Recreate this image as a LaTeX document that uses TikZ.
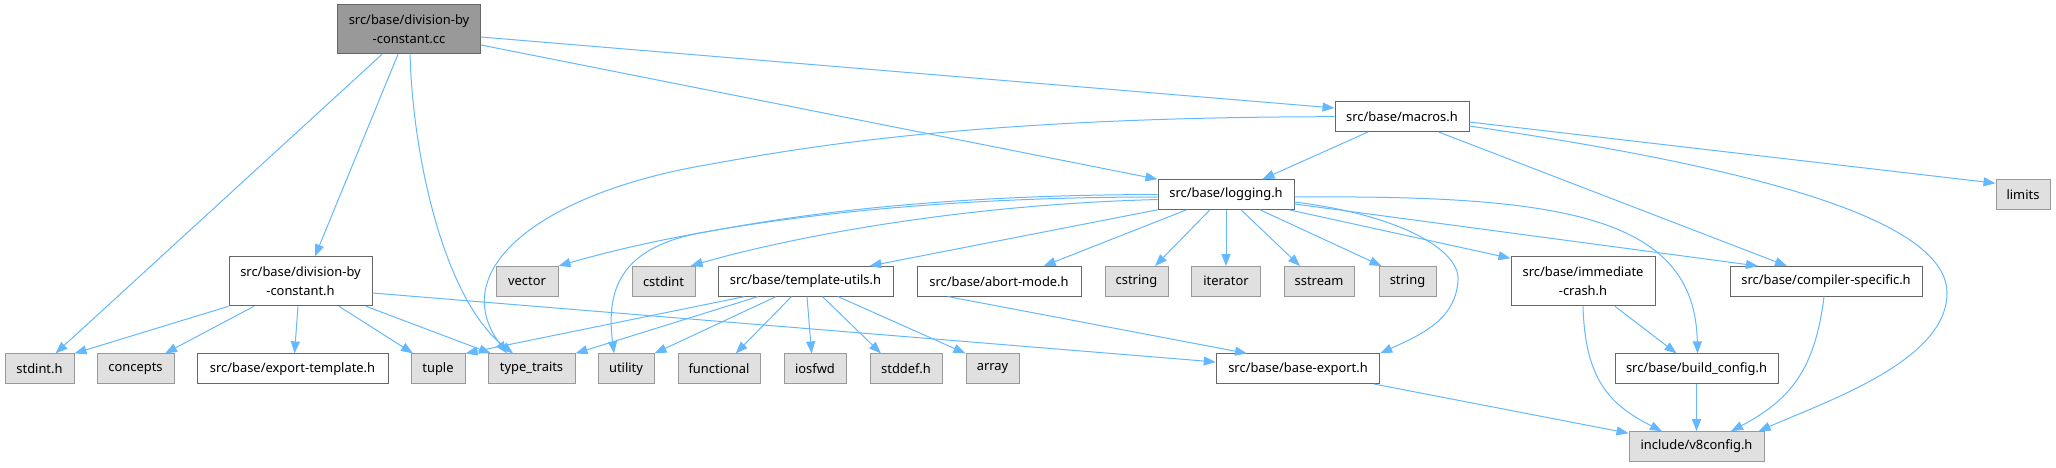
\documentclass[tikz,border=0pt]{standalone}
\usepackage{fontspec}
\setmainfont{Noto Sans}
\usetikzlibrary{arrows.meta}
\definecolor{depblue}{HTML}{63B8FF}
\definecolor{boxline}{HTML}{666666}
\definecolor{sysline}{HTML}{999999}
\definecolor{sysfill}{HTML}{E0E0E0}
\definecolor{curfill}{HTML}{999999}
\begin{document}
\begin{tikzpicture}[x=1pt, y=-1pt, font=\fontsize{12.9}{18.7}\selectfont,
  hdr/.style={draw=boxline, fill=white, line width=1pt, inner sep=0pt, minimum height=29.6pt, align=center},
  sys/.style={hdr, draw=sysline, fill=sysfill},
  cur/.style={hdr, fill=curfill, minimum height=49pt},
  two/.style={minimum height=49pt},
  dep/.style={draw=depblue, line width=1pt, -{Triangle[length=12pt,width=9pt]}}]
  \useasboundingbox (0,0) rectangle (2056,467);
  \node[cur, minimum width=143pt] (main) at (409,29.3) {src/base/division-by\\-constant.cc};
  \node[hdr, minimum width=134pt] (macros) at (1402,116.7) {src/base/macros.h};
  \node[hdr, minimum width=136pt] (logging) at (1226,194.5) {src/base/logging.h};
  \node[sys, minimum width=54pt] (limits) at (2023,194.5) {limits};
  \node[hdr, two, minimum width=143pt] (divh) at (300.5,281.3) {src/base/division-by\\-constant.h};
  \node[sys, minimum width=62pt] (vector) at (527,281.3) {vector};
  \node[sys, minimum width=63pt] (cstdint) at (663.5,281.3) {cstdint};
  \node[hdr, minimum width=175pt] (tutils) at (805.5,281.3) {src/base/template-utils.h};
  \node[hdr, minimum width=164pt] (abort) at (999,281.3) {src/base/abort-mode.h};
  \node[sys, minimum width=63pt] (cstring) at (1136.5,281.3) {cstring};
  \node[sys, minimum width=69pt] (iterator) at (1226,281.3) {iterator};
  \node[sys, minimum width=70pt] (sstream) at (1319,281.3) {sstream};
  \node[sys, minimum width=57pt] (string) at (1407.5,281.3) {string};
  \node[hdr, two, minimum width=144pt] (immcrash) at (1583,281.3) {src/base/immediate\\-crash.h};
  \node[hdr, minimum width=192pt] (compiler) at (1826,281.3) {src/base/compiler-specific.h};
  \node[sys, minimum width=69pt] (stdint) at (39.5,368.7) {stdint.h};
  \node[sys, minimum width=77pt] (concepts) at (135.5,368.7) {concepts};
  \node[hdr, minimum width=191pt] (exptmpl) at (292.5,368.7) {src/base/export-template.h};
  \node[sys, minimum width=54pt] (tuple) at (438,368.7) {tuple};
  \node[sys, minimum width=87pt] (typetraits) at (531.5,368.7) {type\_traits};
  \node[sys, minimum width=56pt] (utility) at (626,368.7) {utility};
  \node[sys, minimum width=82pt] (functional) at (719,368.7) {functional};
  \node[sys, minimum width=62pt] (iosfwd) at (815,368.7) {iosfwd};
  \node[sys, minimum width=72pt] (stddef) at (906,368.7) {stddef.h};
  \node[sys, minimum width=53pt] (array) at (992.5,368.7) {array};
  \node[hdr, minimum width=163.5pt] (baseexp) at (1298,368.7) {src/base/base-export.h};
  \node[hdr, minimum width=163pt] (buildcfg) at (1696.5,368.7) {src/base/build\_config.h};
  \node[sys, minimum width=135pt] (v8config) at (1696.5,446.5) {include/v8config.h};

  \draw[dep] ([xshift=-27pt]main.south) -- ([xshift=16pt]stdint.north);
  \draw[dep] ([xshift=-11pt]main.south) -- ([xshift=14.5pt]divh.north);
  \draw[dep] ([xshift=1pt]main.south) .. controls (413,160) and (445,300) .. ([xshift=-18.5pt]typetraits.north);
  \draw[dep] ([yshift=-7.7pt]main.east) -- ([yshift=8.7pt]macros.west);
  \draw[dep] ([yshift=-15.7pt]main.east) -- (logging.north west);

  \draw[dep] ([xshift=-34pt]macros.south) -- ([xshift=36.5pt]logging.north);
  \draw[dep] (macros.west) .. controls (950,117) and (780,152) .. (700,166) .. controls (540,195) and (445,270) .. ([xshift=-24.5pt]typetraits.north);
  \draw[dep] ([xshift=36.6pt]macros.south) -- ([xshift=-39pt]compiler.north);
  \draw[dep] ([yshift=-9.3pt]macros.east) .. controls (1700,160) and (1947,210) .. (1947,293) .. controls (1947,360) and (1830,400) .. ([xshift=-6pt]v8config.north east);
  \draw[dep] ([yshift=-5.3pt]macros.east) -- ([yshift=-4pt]limits.north west);

  \draw[dep] ([yshift=-2.5pt]logging.west) .. controls (900,197) and (700,225) .. (vector.north east);
  \draw[dep] ([yshift=-5pt]logging.west) .. controls (950,205) and (780,240) .. ([xshift=-5pt]cstdint.north east);
  \draw[dep] (logging.west) .. controls (900,195) and (760,222) .. (700,233) .. controls (620,248) and (606,290) .. ([xshift=-12pt]utility.north);
  \draw[dep] (logging.south west) -- ([xshift=64pt]tutils.north);
  \draw[dep] ([xshift=-39.4pt]logging.south) -- ([xshift=44.7pt]abort.north);
  \draw[dep] ([xshift=-16pt]logging.south) -- ([xshift=18.5pt]cstring.north);
  \draw[dep] (logging) -- (iterator);
  \draw[dep] ([xshift=15pt]logging.south) -- ([xshift=-19pt]sstream.north);
  \draw[dep] ([xshift=34pt]logging.south) -- ([xshift=-26pt]string.north);
  \draw[dep] ([xshift=63pt]logging.south) -- ([yshift=-2pt]immcrash.north west);
  \draw[dep] ([yshift=-9.5pt]logging.east) -- ([xshift=-68pt]compiler.north);
  \draw[dep] ([yshift=-7.5pt]logging.east) .. controls (1400,215) and (1460,250) .. (1458,280) .. controls (1456,320) and (1420,335) .. (baseexp.north east);
  \draw[dep] ([yshift=-2.5pt]logging.east) .. controls (1560,195) and (1695,215) .. ([xshift=1pt]buildcfg.north);

  \draw[dep] ([xshift=-61pt]tutils.south) -- (tuple.north east);
  \draw[dep] ([xshift=-47.5pt]tutils.south) -- (typetraits.north east);
  \draw[dep] ([xshift=-29.5pt]tutils.south) -- (utility.north east);
  \draw[dep] ([xshift=-14pt]tutils.south) -- ([xshift=16.7pt]functional.north);
  \draw[dep] ([xshift=1.5pt]tutils.south) -- ([xshift=-3.4pt]iosfwd.north);
  \draw[dep] ([xshift=17pt]tutils.south) -- ([xshift=-25pt]stddef.north);
  \draw[dep] ([xshift=32.5pt]tutils.south) -- (array.north west);
  \draw[dep] ([xshift=-51pt]abort.south) -- ([xshift=-51pt]baseexp.north);

  \draw[dep] (divh.south west) -- (stdint.north east);
  \draw[dep] ([xshift=-46.5pt]divh.south) -- ([xshift=29.5pt]concepts.north);
  \draw[dep] ([xshift=-2.5pt]divh.south) -- ([xshift=2pt]exptmpl.north);
  \draw[dep] ([xshift=38.5pt]divh.south) -- ([xshift=-25pt]tuple.north);
  \draw[dep] ([xshift=65.5pt]divh.south) -- ([xshift=-40.5pt]typetraits.north);
  \draw[dep] ([yshift=-11.7pt]divh.east) -- ([yshift=6.7pt]baseexp.west);

  \draw[dep] ([xshift=32pt]immcrash.south) -- ([xshift=-20pt]buildcfg.north);
  \draw[dep] (immcrash.south) .. controls (1585,380) and (1610,405) .. ([xshift=-34.5pt]v8config.north);
  \draw[dep] ([xshift=76pt]baseexp.south) -- ([yshift=-2pt]v8config.north west);
  \draw[dep] (buildcfg) -- (v8config);
  \draw[dep] ([xshift=-2pt]compiler.south) .. controls (1815,370) and (1790,400) .. ([xshift=34.5pt]v8config.north);
\end{tikzpicture}
\end{document}
